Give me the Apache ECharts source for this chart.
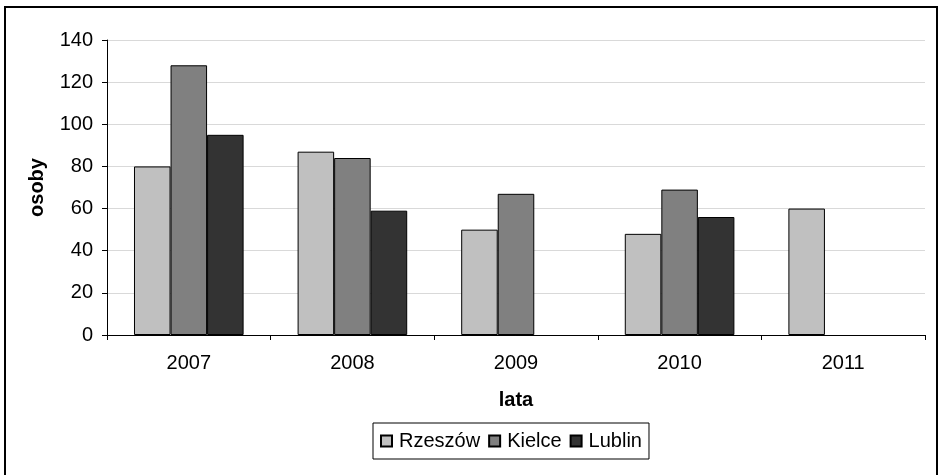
<!DOCTYPE html>
<html>
<head>
<meta charset="utf-8">
<script src="https://cdn.jsdelivr.net/npm/echarts@6/dist/echarts.min.js"></script>
<style>html,body{margin:0;padding:0;background:#fff}#c{width:939px;height:475px}</style>
</head>
<body>
<div id="c"></div>
<script>
const years = ['2007', '2008', '2009', '2010', '2011'];
const rzeszow = [80, 87, 50, 48, 60];
const kielce = [128, 84, 67, 69, null];
const lublin = [95, 59, null, 56, null];
const seriesNames = ['Rzeszów', 'Kielce', 'Lublin'];
const colors = ['#c0c0c0', '#808080', '#333333'];
const yTicks = { min: 0, max: 140, interval: 20 };

const font = '"Liberation Sans", Arial, sans-serif';
const chart = echarts.init(document.getElementById('c'), null, { renderer: 'canvas' });
const mk = (name, data, i) => ({
  name, type: 'bar', data,
  barGap: '0%', barCategoryGap: '33%',
  itemStyle: { color: colors[i], borderColor: '#000', borderWidth: 1 },
  emphasis: { disabled: true }
});
chart.setOption({
  animation: false,
  backgroundColor: '#fff',
  textStyle: { fontFamily: font },
  graphic: [{
    type: 'rect', shape: { x: 5, y: 7, width: 932, height: 475 },
    style: { fill: 'none', stroke: '#000', lineWidth: 2 }, z: 100
  }],
  grid: { left: 107, right: 14, top: 40, bottom: 140 },
  legend: {
    top: 423, left: 373,
    data: seriesNames,
    icon: 'rect', itemWidth: 11, itemHeight: 11, itemGap: 8,
    borderColor: '#000', borderWidth: 1, padding: [8, 7, 8, 7],
    textStyle: { fontSize: 20, color: '#000', fontFamily: font, padding: [0, 0, 0, 2] }
  },
  xAxis: {
    type: 'category', data: years,
    name: 'lata', nameLocation: 'middle', nameGap: 55,
    nameTextStyle: { fontSize: 20, fontWeight: 'bold', color: '#000', fontFamily: font },
    axisLine: { lineStyle: { color: '#000', width: 1 } },
    axisTick: { show: true, length: 5, lineStyle: { color: '#000' } },
    axisLabel: { fontSize: 20, color: '#000', margin: 18, fontFamily: font },
    splitLine: { show: false }
  },
  yAxis: {
    type: 'value', min: yTicks.min, max: yTicks.max, interval: yTicks.interval,
    name: 'osoby', nameLocation: 'middle', nameGap: 60, nameRotate: 90,
    nameTextStyle: { fontSize: 20, fontWeight: 'bold', color: '#000', fontFamily: font },
    axisLine: { show: true, lineStyle: { color: '#000', width: 1 } },
    axisTick: { show: true, length: 5, lineStyle: { color: '#000' } },
    axisLabel: { fontSize: 20, color: '#000', margin: 14, fontFamily: font },
    splitLine: { show: true, lineStyle: { color: '#d9d9d9', width: 1 } }
  },
  series: [mk(seriesNames[0], rzeszow, 0), mk(seriesNames[1], kielce, 1), mk(seriesNames[2], lublin, 2)]
});
</script>
</body>
</html>
